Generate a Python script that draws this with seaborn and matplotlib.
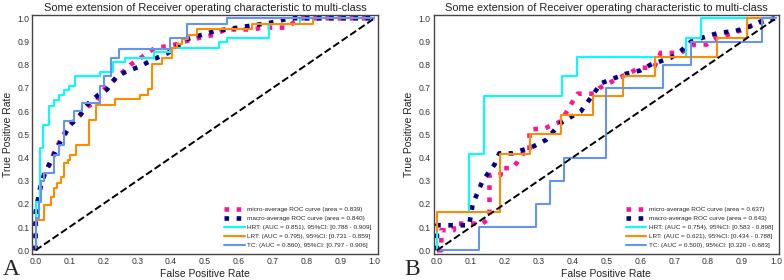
import seaborn as sns
import matplotlib.pyplot as plt
import numpy as np

# ---- panel A data ----
a_micro_fpr = [0, 0, 0.003, 0.007, 0.015, 0.025, 0.044, 0.054, 0.069, 0.083, 0.1, 0.115, 0.132, 0.155, 0.18, 0.2, 0.22,
               0.25, 0.28, 0.318, 0.34, 0.353, 0.39, 0.42, 0.44, 0.48, 0.53, 0.56, 0.64, 0.67, 0.74, 0.76, 0.78, 1]
a_micro_tpr = [0, 0.1, 0.17, 0.21, 0.27, 0.33, 0.375, 0.418, 0.462, 0.5, 0.54, 0.56, 0.584, 0.62, 0.642, 0.69, 0.72,
               0.758, 0.8, 0.837, 0.86, 0.873, 0.88, 0.89, 0.9, 0.915, 0.93, 0.952, 0.952, 0.96, 0.96, 0.98, 1.0, 1]
a_macro_fpr = [0, 0, 0.005, 0.012, 0.02, 0.03, 0.05, 0.074, 0.103, 0.132, 0.157, 0.186, 0.211, 0.24, 0.27, 0.309,
               0.343, 0.39, 0.446, 0.53, 0.62, 0.69, 0.75, 1]
a_macro_tpr = [0, 0.16, 0.2, 0.26, 0.3, 0.34, 0.4, 0.469, 0.541, 0.584, 0.635, 0.671, 0.693, 0.75, 0.772, 0.793,
               0.82, 0.85, 0.91, 0.945, 0.965, 0.98, 1.0, 1]

a_hrt_fpr = [0, 0, 0.012, 0.012, 0.022, 0.022, 0.04, 0.04, 0.055, 0.055, 0.07, 0.07, 0.085, 0.085, 0.1, 0.1, 0.115,
             0.115, 0.19, 0.19, 0.23, 0.23, 0.265, 0.265, 0.35, 0.35, 0.40, 0.40, 0.54, 0.54, 0.565, 0.565, 0.69,
             0.69, 0.78, 0.78, 1]
a_hrt_tpr = [0, 0.21, 0.21, 0.44, 0.44, 0.54, 0.54, 0.62, 0.62, 0.65, 0.65, 0.67, 0.67, 0.69, 0.69, 0.71, 0.71,
             0.75, 0.75, 0.77, 0.77, 0.81, 0.81, 0.83, 0.83, 0.856, 0.856, 0.873, 0.873, 0.897, 0.897, 0.916, 0.916,
             0.977, 0.977, 1.0, 1]
a_lrt_fpr = [0, 0, 0.025, 0.025, 0.046, 0.046, 0.054, 0.054, 0.064, 0.064, 0.074, 0.074, 0.083, 0.083, 0.095, 0.095,
             0.103, 0.103, 0.118, 0.118, 0.157, 0.157, 0.178, 0.178, 0.235, 0.235, 0.309, 0.309, 0.333, 0.333,
             0.343, 0.343, 0.373, 0.373, 0.402, 0.402, 0.417, 0.417, 0.431, 0.431, 0.451, 0.451, 0.476, 0.476,
             0.64, 0.64, 0.818, 0.818, 1]
a_lrt_tpr = [0, 0.13, 0.13, 0.195, 0.195, 0.231, 0.231, 0.267, 0.267, 0.289, 0.289, 0.317, 0.317, 0.375, 0.375, 0.39,
             0.39, 0.411, 0.411, 0.455, 0.455, 0.563, 0.563, 0.628, 0.628, 0.652, 0.652, 0.671, 0.671, 0.696,
             0.696, 0.804, 0.804, 0.83, 0.83, 0.873, 0.873, 0.89, 0.89, 0.909, 0.909, 0.93, 0.93, 0.955,
             0.955, 0.977, 0.977, 1.0, 1]
a_tc_fpr = [0, 0, 0.01, 0.01, 0.015, 0.015, 0.025, 0.025, 0.054, 0.054, 0.069, 0.069, 0.083, 0.083, 0.113, 0.113,
            0.137, 0.137, 0.191, 0.191, 0.201, 0.201, 0.223, 0.223, 0.245, 0.245, 0.397, 0.397, 0.446, 0.446,
            0.564, 0.564, 1]
a_tc_tpr = [0, 0.14, 0.14, 0.21, 0.21, 0.3, 0.3, 0.333, 0.333, 0.41, 0.41, 0.455, 0.455, 0.556, 0.556, 0.599,
            0.599, 0.635, 0.635, 0.707, 0.707, 0.75, 0.75, 0.83, 0.83, 0.866, 0.866, 0.916, 0.916, 0.974,
            0.974, 1.0, 1]

# ---- panel B data ----
b_micro_fpr = [0, 0.013, 0.013, 0.05, 0.05, 0.135, 0.155, 0.155, 0.188, 0.188, 0.223, 0.238, 0.253, 0.273, 0.273,
               0.32, 0.366, 0.395, 0.415, 0.464, 0.48, 0.52, 0.56, 0.6, 0.64, 0.66, 0.72, 0.757, 0.796, 0.83,
               0.86, 0.905, 0.935, 0.997]
b_micro_tpr = [0, 0.0, 0.087, 0.087, 0.115, 0.115, 0.14, 0.325, 0.325, 0.354, 0.354, 0.382, 0.418, 0.418, 0.52,
               0.527, 0.556, 0.628, 0.675, 0.675, 0.70, 0.73, 0.76, 0.787, 0.787, 0.851, 0.851, 0.887, 0.887,
               0.92, 0.93, 0.952, 0.974, 1.0]
b_macro_fpr = [0, 0, 0.095, 0.105, 0.12, 0.135, 0.15, 0.17, 0.184, 0.223, 0.283, 0.322, 0.366, 0.425, 0.45, 0.484,
               0.52, 0.555, 0.6, 0.63, 0.69, 0.72, 0.75, 0.78, 0.83, 0.88, 0.93, 0.96, 1]
b_macro_tpr = [0, 0.108, 0.108, 0.195, 0.25, 0.3, 0.33, 0.37, 0.418, 0.418, 0.447, 0.476, 0.55, 0.6, 0.65, 0.72,
               0.74, 0.76, 0.775, 0.8, 0.83, 0.86, 0.9, 0.915, 0.937, 0.945, 0.968, 0.99, 1]

b_hrt_fpr = [0, 0, 0.095, 0.095, 0.14, 0.14, 0.37, 0.37, 0.414, 0.414, 0.735, 0.735, 0.778, 0.778, 1]
b_hrt_tpr = [0, 0.167, 0.167, 0.417, 0.417, 0.667, 0.667, 0.75, 0.75, 0.833, 0.833, 0.917, 0.917, 1.0, 1]
b_lrt_fpr = [0, 0, 0.185, 0.185, 0.275, 0.275, 0.367, 0.367, 0.46, 0.46, 0.55, 0.55, 0.643, 0.643, 0.825, 0.825,
             0.916, 0.916, 1]
b_lrt_tpr = [0.083, 0.167, 0.167, 0.417, 0.417, 0.5, 0.5, 0.583, 0.583, 0.667, 0.667, 0.75, 0.75, 0.833, 0.833,
             0.917, 0.917, 1.0, 1]
b_tc_fpr = [0, 0.125, 0.125, 0.292, 0.292, 0.333, 0.333, 0.375, 0.375, 0.5, 0.5, 0.667, 0.667, 0.75, 0.75,
            0.958, 0.958, 1]
b_tc_tpr = [0, 0, 0.1, 0.1, 0.2, 0.2, 0.3, 0.3, 0.4, 0.4, 0.7, 0.7, 0.8, 0.8, 0.9, 0.9, 1.0, 1]

a_labels = ["micro-average ROC curve (area = 0.839)",
            "macro-average ROC curve (area = 0.840)",
            "HRT: (AUC = 0.851), 95%CI: [0.788 - 0.909]",
            "LRT: (AUC = 0.795), 95%CI: [0.731 - 0.859]",
            "TC: (AUC = 0.860), 95%CI: [0.797 - 0.906]"]
b_labels = ["micro-average ROC curve (area = 0.637)",
            "macro-average ROC curve (area = 0.643)",
            "HRT: (AUC = 0.754), 95%CI: [0.583 - 0.898]",
            "LRT: (AUC = 0.621), 95%CI: [0.434 - 0.788]",
            "TC: (AUC = 0.500), 95%CI: [0.320 - 0.683]"]

title = "Some extension of Receiver operating characteristic to multi-class"
ticks = [0.0, 0.1, 0.2, 0.3, 0.4, 0.5, 0.6, 0.7, 0.8, 0.9, 1.0]

sns.set_style("white")
plt.rcParams['font.family'] = ['Liberation Sans', 'DejaVu Sans']

fig = plt.figure(figsize=(7.84, 2.8), dpi=100)
axA = fig.add_axes([0.041, 0.092, 0.441, 0.855])
axB = fig.add_axes([0.553, 0.092, 0.441, 0.855])

panels = [
    (axA, "A", a_labels, [(a_micro_fpr, a_micro_tpr), (a_macro_fpr, a_macro_tpr),
                          (a_hrt_fpr, a_hrt_tpr), (a_lrt_fpr, a_lrt_tpr), (a_tc_fpr, a_tc_tpr)]),
    (axB, "B", b_labels, [(b_micro_fpr, b_micro_tpr), (b_macro_fpr, b_macro_tpr),
                          (b_hrt_fpr, b_hrt_tpr), (b_lrt_fpr, b_lrt_tpr), (b_tc_fpr, b_tc_tpr)]),
]
colors = ["deeppink", "navy", "aqua", "darkorange", "cornflowerblue"]

for ax, letter, labels, curves in panels:
    for i, (fpr, tpr) in enumerate(curves):
        if i < 2:
            sns.lineplot(x=fpr, y=tpr, ax=ax, sort=False, estimator=None, color=colors[i],
                         linestyle=":", linewidth=3.3, label=labels[i])
        else:
            sns.lineplot(x=fpr, y=tpr, ax=ax, sort=False, estimator=None, color=colors[i],
                         linewidth=1.5, label=labels[i])
    sns.lineplot(x=[0, 1], y=[0, 1], ax=ax, color="black", linestyle="--", linewidth=1.4)

    ax.set_xlim(-0.01, 1.01)
    ax.set_ylim(-0.017, 1.015)
    ax.set_xticks(ticks)
    ax.set_yticks(ticks)
    ax.tick_params(labelsize=6.2, colors="#333333", pad=2, length=0)
    ax.set_xlabel("False Positive Rate", fontsize=7.5, labelpad=2, color="#222222")
    ax.set_ylabel("True Positive Rate", fontsize=7.5, labelpad=3, color="#222222")
    ax.set_title(title, fontsize=7.9, pad=3, color="#222222")
    for s in ax.spines.values():
        s.set_color("#444444")
        s.set_linewidth(1.0)
    leg = ax.legend(loc="lower right", fontsize=4.6, frameon=False, handlelength=3.2,
                    handletextpad=0.4, labelspacing=0.55, borderaxespad=0.6)
    ax.text(-0.085, -0.02, letter, transform=ax.transAxes, fontsize=17,
            family=["Liberation Serif", "DejaVu Serif"], va="top", ha="left")

fig.savefig("out.png", dpi=100)
